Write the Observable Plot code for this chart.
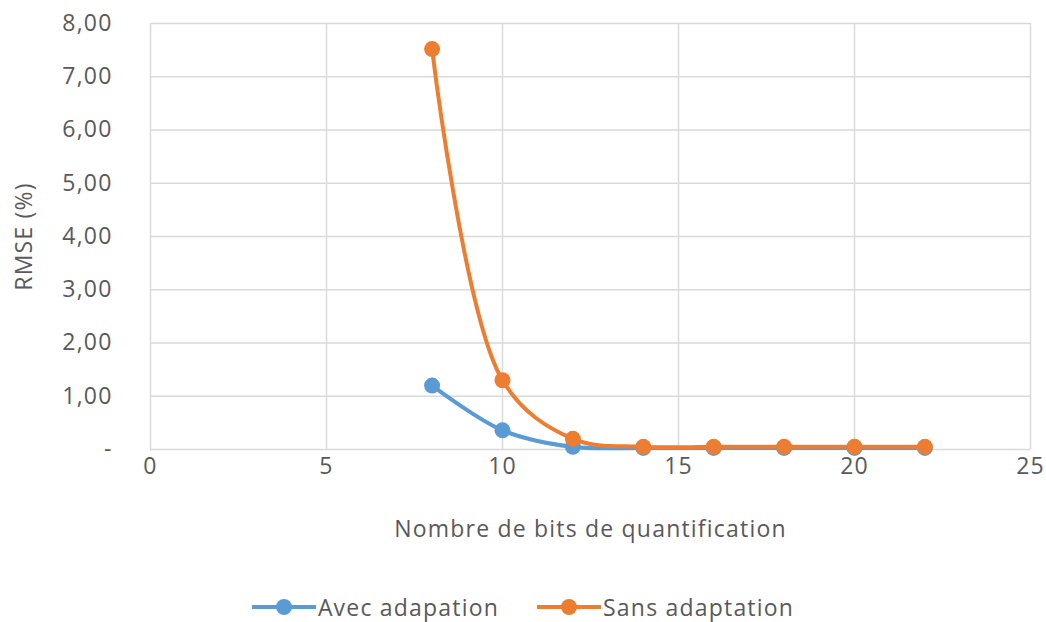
<!DOCTYPE html>
<html><head><meta charset="utf-8">
<script src="https://cdn.jsdelivr.net/npm/d3@7"></script>
<script src="https://cdn.jsdelivr.net/npm/@observablehq/plot@0.6"></script>
<style>
body{margin:0;background:#fff;font-family:"Open Sans",sans-serif;}
#chart svg text{letter-spacing:1.2px}
#legend{display:flex;justify-content:center;gap:38px;font-size:23px;letter-spacing:1.2px;color:#595959;margin-top:6px;padding-left:0px;height:30px;line-height:30px}
.li{display:flex;align-items:center;gap:2px}
</style></head><body>
<div id="chart"></div>
<div id="legend"></div>
<script>
const bits = [8, 10, 12, 14, 16, 18, 20, 22];
const avec = [1.20, 0.36, 0.05, 0.03, 0.03, 0.03, 0.03, 0.03];
const sans = [7.52, 1.30, 0.20, 0.05, 0.05, 0.05, 0.05, 0.05];
const seriesNames = ["Avec adapation", "Sans adaptation"];
const colors = ["#5b9bd5", "#ed7d31"];
const yTicks = [0,1,2,3,4,5,6,7,8];
const xTicks = [0,5,10,15,20,25];

const data = [];
bits.forEach((b,i)=>{ data.push({x:b,y:avec[i],s:seriesNames[0]}); });
bits.forEach((b,i)=>{ data.push({x:b,y:sans[i],s:seriesNames[1]}); });

const fmt = d => d === 0 ? "-" : d3.format(".2f")(d).replace(".", ",");
const chart = Plot.plot({
  width: 1046, height: 586,
  marginLeft: 150, marginRight: 16, marginTop: 23, marginBottom: 137,
  style: {fontFamily: "Open Sans, sans-serif", fontSize: "23px", color: "#595959"},
  x: {domain: [0, 25]},
  y: {domain: [0, 8]},
  color: {domain: seriesNames, range: colors},
  marks: [
    Plot.gridX(xTicks, {stroke: "#d9d9d9", strokeOpacity: 1, strokeWidth: 1.5}),
    Plot.gridY(yTicks, {stroke: "#d9d9d9", strokeOpacity: 1, strokeWidth: 1.5}),
    Plot.axisX({ticks: xTicks, tickSize: 0, tickPadding: 8, label: "Nombre de bits de quantification", labelAnchor: "center", labelArrow: "none", labelOffset: 87, fontSize: 23}),
    Plot.axisY({ticks: yTicks, tickSize: 0, tickPadding: 38, tickFormat: fmt, label: "RMSE (%)", labelAnchor: "center", labelArrow: "none", labelOffset: 135, fontSize: 23}),
    Plot.line(data, {x: "x", y: "y", z: "s", stroke: "s", strokeWidth: 4, curve: "catmull-rom"}),
    Plot.dot(data, {x: "x", y: "y", fill: "s", r: 8})
  ]
});
document.getElementById("chart").append(chart);

const lg = document.getElementById("legend");
seriesNames.forEach((n,i)=>{
  const d = document.createElement("div"); d.className="li";
  d.innerHTML = `<svg width="64" height="20"><line x1="0" x2="64" y1="10" y2="10" stroke="${colors[i]}" stroke-width="4"/><circle cx="32" cy="10" r="8" fill="${colors[i]}"/></svg><span>${n}</span>`;
  lg.append(d);
});
</script>
</body></html>
